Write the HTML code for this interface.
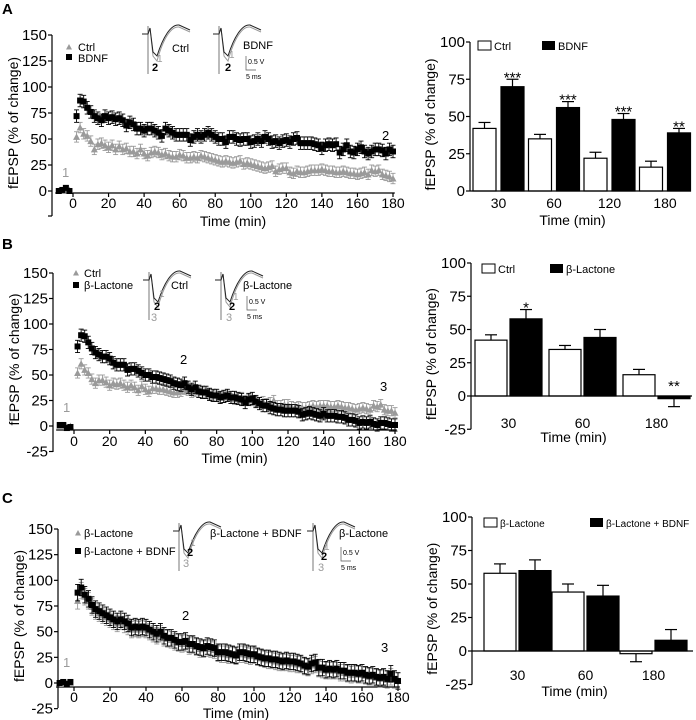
<!DOCTYPE html>
<html><head><meta charset="utf-8"><style>
body{margin:0;background:#fff}
svg{display:block;font-family:"Liberation Sans",sans-serif}
</style></head><body>
<svg id="fig" width="696" height="720" viewBox="0 0 696 720">
<g id="static">
<text x="2" y="14" font-size="15" font-weight="bold">A</text>
<text x="2" y="249" font-size="15" font-weight="bold">B</text>
<text x="2" y="503" font-size="15" font-weight="bold">C</text>
</g>
</svg>
<script>
// ---------- DATA ----------
const baseTimes=[-8,-6,-4,-2];
const A_bdnf_base=[0,1,3,0];
const A_ctrl_base=[0,0,0,1];
const A_bdnf=[72,87,86,80,76,72,70,68,72,70,71,69,70,68,63,66,64,60,60,58,60,60,58,56,53,60,58,56,54,54,54,54,49,52,54,52,54,56,54,52,50,50,47,52,52,50,49,50,50,47,48,50,48,52,50,47,48,46,48,49,47,50,51,46,46,46,46,45,44,41,44,45,44,45,37,40,44,38,37,40,42,38,36,38,40,40,39,36,40,38];
const A_ctrl=[52,61,55,53,48,40,45,46,44,42,44,40,43,40,41,38,38,36,40,36,34,37,38,37,35,36,34,33,33,35,34,32,32,33,32,34,33,32,31,30,29,28,29,28,27,28,29,26,27,26,25,24,23,22,23,24,19,21,22,22,18,17,19,18,18,19,20,20,20,21,20,19,19,18,18,19,18,17,17,16,17,18,16,20,19,20,16,15,14,12];
const B_lac_base=[1,1,-2,-1];
const B_ctrl_base=[0,0,-1,0];
const B_lac=[78,89,88,82,76,72,70,68,68,66,62,60,60,60,55,56,56,54,52,50,50,48,48,47,46,45,44,42,41,40,42,38,36,38,34,33,33,31,30,30,28,29,30,28,28,27,26,23,26,27,24,22,20,20,18,17,16,16,15,15,15,15,14,11,12,13,12,11,10,12,10,10,10,9,9,8,6,6,5,3,4,3,4,2,1,3,3,2,1,1];
const B_ctrl=[52,61,55,52,46,42,45,45,43,40,42,41,42,40,38,40,38,35,39,36,34,37,37,36,36,35,34,33,33,34,36,35,33,34,33,33,32,31,30,29,28,28,29,27,26,27,28,25,26,25,24,23,24,22,23,25,20,20,21,21,19,18,19,18,18,19,20,19,20,20,20,19,19,20,19,18,18,17,16,17,18,17,16,20,19,21,16,15,15,13];
const C_bdnf_base=[0,1,-1,1];
const C_lac_base=[0,-1,0,0];
const C_bdnf=[88,93,86,82,76,72,70,68,66,64,62,60,62,60,58,54,55,54,55,54,52,50,48,50,46,44,44,42,40,40,41,38,38,36,35,34,36,35,34,30,30,30,29,28,27,30,30,29,28,28,26,25,24,24,23,23,22,21,22,21,21,20,19,17,16,19,20,15,15,13,14,13,14,12,12,10,10,10,9,10,8,7,8,6,5,6,4,9,4,2];
const C_lac=[80,90,84,80,74,70,68,66,64,62,60,58,60,57,55,52,53,52,53,52,50,48,46,48,44,43,42,40,39,38,39,36,37,35,33,33,34,33,32,29,28,28,27,27,26,28,28,27,26,27,25,24,23,22,22,21,20,20,20,19,19,18,18,16,15,17,18,14,13,12,12,12,12,10,10,9,8,9,8,8,7,6,6,5,4,5,3,6,3,2];
const lineTicks=[0,20,40,60,80,100,120,140,160,180];
const yTicksA=[0,25,50,75,100,125,150];
const yTicksBC=[-25,0,25,50,75,100,125,150];

const barCatsA=["30","60","120","180"];
const barA_ctrl=[42,35,22,16], barA_ctrl_err=[4,3,4,4];
const barA_bdnf=[70,56,48,39], barA_bdnf_err=[5,4,4,3];
const barA_stars=["***","***","***","**"];
const barCatsBC=["30","60","180"];
const barB_ctrl=[42,35,16], barB_ctrl_err=[4,3,4];
const barB_lac=[58,44,-2], barB_lac_err=[7,6,6];
const barB_stars=["*","","**"];
const barC_lac=[58,44,-2], barC_lac_err=[7,6,6];
const barC_bdnf=[60,41,8], barC_bdnf_err=[8,8,8];
const barC_stars=["","",""];
const barTicksA=[0,25,50,75,100];
const barTicksBC=[-25,0,25,50,75,100];

// ---------- DRAW ----------
const svg=document.getElementById('fig');
const NS='http://www.w3.org/2000/svg';
function mk(tag,attrs,parent,text){const e=document.createElementNS(NS,tag);for(const k in attrs)e.setAttribute(k,attrs[k]);if(text!==undefined)e.textContent=text;(parent||svg).appendChild(e);return e;}
function postTimes(n){const t=[];for(let i=0;i<n;i++)t.push(2+2*i);return t;}

function lineChart(cfg){
  const g=mk('g',{});
  
  
  const sx=v=>cfg.x0+(v)*(cfg.x180-cfg.x0)/180;
  const sy=v=>cfg.y0-(v)*(cfg.y0-cfg.y150)/150;
  const ya=mk('line',{x1:cfg.ax,x2:cfg.ax,y1:sy(150),y2:cfg.yBottom,stroke:'#000','stroke-width':1.2},g);
  
  
  cfg.yticks.forEach(v=>{
    mk('line',{x1:cfg.ax-4,x2:cfg.ax,y1:sy(v),y2:sy(v),stroke:'#000','stroke-width':1.2},g);
    const t=mk('text',{x:cfg.ax-5,y:sy(v)+5,'font-size':15,'text-anchor':'end'},g,String(v));
    
    
  });
  if(cfg.bracket) mk('line',{x1:cfg.ax-4,x2:cfg.ax,y1:cfg.yBottom,y2:cfg.yBottom,stroke:'#000','stroke-width':1.2},g);
  const xa=mk('line',{x1:sx(-10),x2:sx(181),y1:cfg.xAxisY,y2:cfg.xAxisY,stroke:'#000','stroke-width':1.2},g);
  
  
  lineTicks.forEach(v=>{
    mk('line',{x1:sx(v),x2:sx(v),y1:cfg.xAxisY,y2:cfg.xAxisY+4,stroke:'#000','stroke-width':1.2},g);
    const t=mk('text',{x:sx(v),y:cfg.xLabY,'font-size':14,'text-anchor':'middle'},g,String(v));
    
    
  });
  const xt=mk('text',{x:(cfg.x0+cfg.x180)/2,y:cfg.xTitleY,'font-size':14,'text-anchor':'middle'},g,'Time (min)');
  
  
  const yt=mk('text',{x:0,y:0,'font-size':14,'text-anchor':'middle',transform:`translate(${cfg.ax-34},${(sy(150)+sy(0))/2+10}) rotate(-90)`},g,'fEPSP (% of change)');
  
  
  cfg.series.forEach(s=>{
    const sg=mk('g',{},g);
    
    
    const times=baseTimes.concat(postTimes(s.vals.length));
    const vals=s.base.concat(s.vals);
    times.forEach((t,i)=>{
      const x=sx(t),y=sy(vals[i]),e=(i<4?1:s.err)*(cfg.y0-cfg.y150)/150;
      if(i>=4){
        mk('line',{x1:x,x2:x,y1:y,y2:y-e,stroke:s.color,'stroke-width':0.9},sg);
        mk('line',{x1:x-2.5,x2:x+2.5,y1:y-e,y2:y-e,stroke:s.color,'stroke-width':0.9},sg);
        if(s.down){mk('line',{x1:x,x2:x,y1:y,y2:y+e,stroke:s.color,'stroke-width':0.9},sg);
          mk('line',{x1:x-2.5,x2:x+2.5,y1:y+e,y2:y+e,stroke:s.color,'stroke-width':0.9},sg);}
      }
      let m;
      if(s.shape==='sq') m=mk('rect',{x:x-3,y:y-3,width:6,height:6,fill:s.color},sg);
      else m=mk('polygon',{points:`${x},${y-3.5} ${x-3.5},${y+3} ${x+3.5},${y+3}`,fill:s.color},sg);
      
      
    });
  });
  return g;
}

function barChart(cfg){
  const g=mk('g',{});
  
  
  const k=(cfg.y0-cfg.y100)/100;
  const sy=v=>cfg.y0-v*k;
  const ya=mk('line',{x1:cfg.ax,x2:cfg.ax,y1:sy(100),y2:sy(cfg.ymin),stroke:'#000','stroke-width':1.2},g);
  
  
  cfg.ticks.forEach(v=>{
    mk('line',{x1:cfg.ax-4,x2:cfg.ax,y1:sy(v),y2:sy(v),stroke:'#000','stroke-width':1.2},g);
    const t=mk('text',{x:cfg.ax-5,y:sy(v)+5,'font-size':15,'text-anchor':'end'},g,String(v));
    
    
  });
  const yt=mk('text',{x:0,y:0,'font-size':14,'text-anchor':'middle',transform:`translate(${cfg.ax-35},${(sy(100)+sy(cfg.ymin))/2+8}) rotate(-90)`},g,'fEPSP (% of change)');
  
  
  cfg.cats.forEach((c,i)=>{
    const gx=cfg.gx0+i*cfg.pitch;
    [[cfg.s1,cfg.e1,'#fff'],[cfg.s2,cfg.e2,'#000']].forEach((sp,j)=>{
      const v=sp[0][i],e=sp[1][i];
      const x=gx+j*(cfg.bw+cfg.gap);
      const top=Math.min(sy(v),sy(0)),h=Math.abs(sy(v)-sy(0));
      const b=mk('rect',{x:x,y:top,width:cfg.bw,height:Math.max(h,1),fill:sp[2],stroke:'#000','stroke-width':1.2},g);
      
      
      const ey=v>=0?sy(v)-e*k:sy(v)+e*k;
      mk('line',{x1:x+cfg.bw/2,x2:x+cfg.bw/2,y1:sy(v),y2:ey,stroke:'#000','stroke-width':1.2},g);
      mk('line',{x1:x+cfg.bw/2-6,x2:x+cfg.bw/2+6,y1:ey,y2:ey,stroke:'#000','stroke-width':1.2},g);
      if(j===1&&cfg.stars[i]){
        const sYv=v>=0?ey-4:sy(0)-12;
        const st=mk('text',{x:x+cfg.bw/2,y:sYv+7,'font-size':15,'text-anchor':'middle'},g,cfg.stars[i]);
        
        
      }
    });
    const t=mk('text',{x:gx+cfg.bw+cfg.gap/2,y:cfg.labY,'font-size':14,'text-anchor':'middle'},g,c);
    
    
  });
  const xa=mk('line',{x1:cfg.ax,x2:cfg.axEnd,y1:sy(0),y2:sy(0),stroke:'#000','stroke-width':1.2},g);
  
  
  const xt=mk('text',{x:(cfg.ax+cfg.axEnd)/2-8,y:cfg.titleY,'font-size':14,'text-anchor':'middle'},g,'Time (min)');
  
  
  const fs=cfg.legFs||11;
  const l1=mk('rect',{x:cfg.leg[0],y:cfg.leg[1],width:13,height:9,fill:'#fff',stroke:'#000','stroke-width':1},g);
  
  
  const lt1=mk('text',{x:cfg.leg[0]+16,y:cfg.leg[1]+9,'font-size':fs},g,cfg.names[0]);
  
  
  const l2=mk('rect',{x:cfg.leg[2],y:cfg.leg[1],width:13,height:9,fill:'#000'},g);
  
  
  const lt2=mk('text',{x:cfg.leg[2]+16,y:cfg.leg[1]+9,'font-size':fs},g,cfg.names[1]);
  
  
}

const GR='#9a9a9a';
lineChart({name:'chart-a-timecourse',ax:52,x0:73,x180:393,y0:191,y150:35,yBottom:216,bracket:true,yticks:yTicksA,xAxisY:193,xLabY:208,xTitleY:226,
 series:[{name:'series-ctrl',vals:A_ctrl,base:A_ctrl_base,err:5,color:GR,shape:'tri',down:true},{name:'series-bdnf',vals:A_bdnf,base:A_bdnf_base,err:6,color:'#000',shape:'sq',down:true}]});
lineChart({name:'chart-b-timecourse',ax:53,x0:74,x180:395,y0:426,y150:273,yBottom:452,yticks:yTicksBC,xAxisY:430,xLabY:446,xTitleY:463,
 series:[{name:'series-ctrl',vals:B_ctrl,base:B_ctrl_base,err:5,color:GR,shape:'tri',down:true},{name:'series-lactone',vals:B_lac,base:B_lac_base,err:6,color:'#000',shape:'sq',down:true}]});
lineChart({name:'chart-c-timecourse',ax:58,x0:74,x180:398,y0:683,y150:529,yBottom:708,yticks:yTicksBC,xAxisY:687,xLabY:702,xTitleY:718,
 series:[{name:'series-lactone',vals:C_lac,base:C_lac_base,err:8,color:GR,shape:'tri',down:true},{name:'series-lactone-bdnf',vals:C_bdnf,base:C_bdnf_base,err:8,color:'#000',shape:'sq',down:true}]});

barChart({name:'chart-a-bars',ax:470,axEnd:691,y0:191,y100:42,ymin:0,ticks:barTicksA,cats:barCatsA,gx0:473,pitch:55.5,bw:23,gap:5,
 s1:barA_ctrl,e1:barA_ctrl_err,s2:barA_bdnf,e2:barA_bdnf_err,stars:barA_stars,labY:208,titleY:225,leg:[478,41,542],names:['Ctrl','BDNF']});
barChart({name:'chart-b-bars',ax:471,axEnd:692,y0:396,y100:263,ymin:-25,ticks:barTicksBC,cats:barCatsBC,gx0:475,pitch:74,bw:32,gap:3,
 s1:barB_ctrl,e1:barB_ctrl_err,s2:barB_lac,e2:barB_lac_err,stars:barB_stars,labY:428,titleY:442,leg:[482,264,550],names:['Ctrl','β-Lactone']});
barChart({name:'chart-c-bars',ax:472,axEnd:693,y0:651,y100:517,ymin:-25,ticks:barTicksBC,cats:barCatsBC,gx0:484,pitch:68,bw:32,gap:3,legFs:10,
 s1:barC_lac,e1:barC_lac_err,s2:barC_bdnf,e2:barC_bdnf_err,stars:barC_stars,labY:680,titleY:696,leg:[484,518,590],names:['β-Lactone','β-Lactone + BDNF']});

function txt(x,y,s,opts,name){const t=mk('text',Object.assign({x:x,y:y,'font-size':11},opts||{}),svg,s);return t;}
function legTri(x,y){const p=mk('polygon',{points:`${x},${y-3} ${x-3},${y+2.5} ${x+3},${y+2.5}`,fill:GR});}
function legSq(x,y){const p=mk('rect',{x:x-3,y:y-3,width:6,height:6,fill:'#000'});}
function trace(x,y,name){const g=mk('g',{});
  mk('line',{x1:x+3,x2:x+3,y1:y-8,y2:y+40,stroke:'#555','stroke-width':0.8},g);
  mk('path',{d:`M${x-3},${y} L${x+3},${y} L${x+5},${y-6} L${x+8},${y+22} L${x+12},${y+27} C${x+18},${y+5} ${x+26},${y-8} ${x+34},${y-7} L${x+45},${y-2}`,fill:'none',stroke:'#999','stroke-width':1},g);
  mk('path',{d:`M${x-3},${y} L${x+3},${y} L${x+5},${y-6} L${x+8},${y+18} L${x+12},${y+22} C${x+18},${y+3} ${x+26},${y-10} ${x+34},${y-9} L${x+45},${y-4}`,fill:'none',stroke:'#222','stroke-width':1},g);}
function scale(x,y){const g=mk('g',{});
  mk('path',{d:`M${x},${y} L${x},${y+14} L${x+10},${y+14}`,fill:'none',stroke:'#555','stroke-width':0.7},g);
  mk('text',{x:x+2,y:y+8,'font-size':7},g,'0.5 V');mk('text',{x:x,y:y+23,'font-size':7},g,'5 ms');}

// A
legTri(69,47);txt(78,51,'Ctrl',{},'legend-label-ctrl');legSq(69,57);txt(78,62,'BDNF',{},'legend-label-bdnf');
trace(145,34,'trace-ctrl');trace(216,34,'trace-bdnf');
txt(172,52,'Ctrl',{},'trace-label');txt(243,49,'BDNF',{},'trace-label');
txt(157,62,'1',{fill:GR,'font-size':10},'trace-marker');txt(152,71,'2',{'font-weight':'bold','font-size':11},'trace-marker');
txt(229,58,'1',{fill:GR,'font-size':10},'trace-marker');txt(225,71,'2',{'font-weight':'bold','font-size':11},'trace-marker');
scale(246,56);
txt(382,140,'2',{'font-size':13},'timepoint-label');txt(62,177,'1',{fill:GR,'font-size':13},'timepoint-label');
// B
legTri(76,273);txt(84,277,'Ctrl',{},'legend-label-ctrl');legSq(76,285);txt(84,289,'β-Lactone',{},'legend-label-lactone');
trace(146,280,'trace-ctrl');trace(218,280,'trace-lactone');
txt(171,289,'Ctrl',{},'trace-label');txt(243,289,'β-Lactone',{},'trace-label');
txt(159,297,'1',{fill:GR,'font-size':10},'trace-marker');txt(154,310,'2',{'font-weight':'bold','font-size':11},'trace-marker');txt(151,321,'3',{fill:GR,'font-size':11},'trace-marker');
txt(233,300,'1',{fill:GR,'font-size':10},'trace-marker');txt(229,310,'2',{'font-weight':'bold','font-size':11},'trace-marker');txt(226,321,'3',{fill:GR,'font-size':11},'trace-marker');
scale(247,296);
txt(180,364,'2',{'font-size':13},'timepoint-label');txt(380,391,'3',{'font-size':13},'timepoint-label');txt(63,412,'1',{fill:GR,'font-size':13},'timepoint-label');
// C
legTri(78,533);txt(84,537,'β-Lactone',{},'legend-label-lactone');legSq(78,551);txt(84,555,'β-Lactone + BDNF',{},'legend-label-lactone-bdnf');
trace(176,531,'trace-lactone-bdnf');trace(310,531,'trace-lactone');
txt(210,537,'β-Lactone + BDNF',{},'trace-label');txt(339,537,'β-Lactone',{},'trace-label');
txt(190,546,'1',{fill:GR,'font-size':10},'trace-marker');txt(187,556,'2',{'font-weight':'bold','font-size':11},'trace-marker');txt(183,567,'3',{fill:GR,'font-size':11},'trace-marker');
txt(324,550,'1',{fill:GR,'font-size':10},'trace-marker');txt(321,560,'2',{'font-weight':'bold','font-size':11},'trace-marker');txt(318,571,'3',{fill:GR,'font-size':11},'trace-marker');
scale(341,547);
txt(182,620,'2',{'font-size':13},'timepoint-label');txt(381,652,'3',{'font-size':13},'timepoint-label');txt(63,667,'1',{fill:GR,'font-size':13},'timepoint-label');
</script>
</body></html>
